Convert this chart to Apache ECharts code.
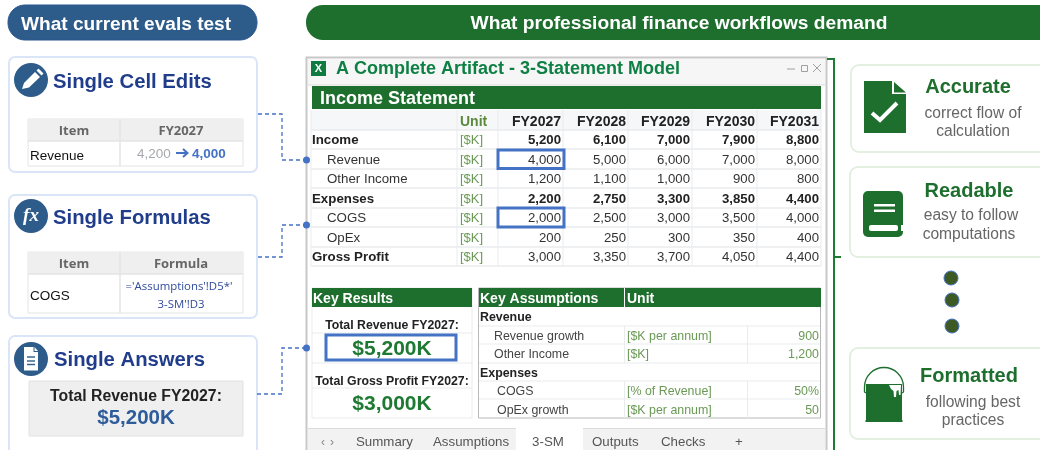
<!DOCTYPE html>
<html>
<head>
<meta charset="utf-8">
<style>
  html, body { margin: 0; padding: 0; background: #fff; }
  #main { width: 1040px; height: 450px; }
</style>
<script src="https://cdn.jsdelivr.net/npm/echarts@6/dist/echarts.min.js"></script>
</head>
<body>
<div id="main"></div>
<script>
// table contents
const years = ["FY2027", "FY2028", "FY2029", "FY2030", "FY2031"];
const rowLabels = ["Income", "Revenue", "Other Income", "Expenses", "COGS", "OpEx", "Gross Profit"];
const boldLabels = ["Income", "Expenses", "Gross Profit"];
const boldValues = ["Income", "Expenses"];
const income = [5200, 6100, 7000, 7900, 8800];
const revenue = [4000, 5000, 6000, 7000, 8000];
const otherIncome = [1200, 1100, 1000, 900, 800];
const expenses = [2200, 2750, 3300, 3850, 4400];
const cogs = [2000, 2500, 3000, 3500, 4000];
const opex = [200, 250, 300, 350, 400];
const grossProfit = [3000, 3350, 3700, 4050, 4400];
const assumptionLabels = ["Revenue growth", "Other Income", "COGS", "OpEx growth"];
const assumptionUnits = ["[$K per annum]", "[$K]", "[% of Revenue]", "[$K per annum]"];
const assumptionValues = ["900", "1,200", "50%", "50"];
const tabs = ["Summary", "Assumptions", "3-SM", "Outputs", "Checks", "+"];

// layout
const colEdges = [311, 457, 498, 563, 628, 692, 757, 821];
const rowEdges = [110, 130, 149, 169, 188, 208, 227, 247, 266];
const tabX = [356, 433, 548, 592, 661, 735];

const SANS = '"Liberation Sans", Arial, sans-serif';
const OPEN = '"Open Sans", sans-serif';
const GREEN = "#1e6e2e";
const NAVY = "#2e5c8a";
const BLUE = "#4472c4";
const GRID = "#e9ebed";

let els = [];

function rect(x, y, w, h, fill, stroke, lw, r) {
  els.push({
    type: "rect", silent: true,
    shape: { x: x, y: y, width: w, height: h, r: r || 0 },
    style: { fill: fill || "none", stroke: stroke || "none", lineWidth: lw || 0 }
  });
}
function line(points, color, lw, dash) {
  els.push({
    type: "polyline", silent: true,
    shape: { points: points },
    style: { fill: "none", stroke: color, lineWidth: lw || 1, lineDash: dash || null }
  });
}
function poly(points, fill) {
  els.push({ type: "polygon", silent: true, shape: { points: points }, style: { fill: fill } });
}
function circle(cx, cy, r, fill, stroke, lw) {
  els.push({
    type: "circle", silent: true,
    shape: { cx: cx, cy: cy, r: r },
    style: { fill: fill, stroke: stroke || "none", lineWidth: lw || 0 }
  });
}
function text(str, x, y, size, color, opts) {
  opts = opts || {};
  els.push({
    type: "text", silent: true,
    style: {
      text: str, x: x, y: y + 2,
      font: (opts.italic ? "italic " : "") + (opts.bold ? "bold " : "") + size + "px " + (opts.family || SANS),
      fill: color, align: opts.align || "left", verticalAlign: "middle"
    }
  });
}
function fmt(v) {
  return v.toLocaleString("en-US");
}

// ---- header pills
rect(8, 5, 249, 35, NAVY, "#2a5590", 1, 17);
text("What current evals test", 21, 23, 19.1, "#fff", { bold: true });
rect(306, 5, 770, 35, GREEN, null, 0, 17);
text("What professional finance workflows demand", 679, 22, 19.2, "#fff", { bold: true, align: "center" });

// ---- left cards
function card(y, h) {
  rect(9, y, 248, h, "#fff", "#dae5f8", 2, 6);
}
function cardTitle(str, x, y) {
  text(str, x, y, 20.3, "#203d8c", { bold: true });
}
function miniTable(y, h, headA, headB) {
  rect(28, y, 215, h, "#fff", "#e4e4e4", 1);
  rect(28, y, 215, 22, "#efefef");
  line([[120, y], [120, y + h]], "#e4e4e4", 1.5);
  line([[28, y + 22], [243, y + 22]], "#e4e4e4", 1.5);
  text(headA, 74, y + 10, 13, "#666", { bold: true, family: OPEN, align: "center" });
  text(headB, 181, y + 10, 13, "#666", { bold: true, family: OPEN, align: "center" });
}

card(57, 115);
circle(31, 80, 17, NAVY);
poly([[22, 89], [24, 83], [35, 72], [40, 77], [29, 87.5]], "#fff");
poly([[36.5, 70.5], [38.5, 68.5], [43.5, 73.5], [41.5, 75.5]], "#fff");
cardTitle("Single Cell Edits", 53, 80);
miniTable(119, 47, "Item", "FY2027");
text("Revenue", 30, 154, 13.5, "#111");
text("4,200", 137, 152, 13.5, "#a5a8ad");
line([[176, 153], [187, 153]], BLUE, 2);
line([[183, 149], [187.5, 153], [183, 157]], BLUE, 2);
text("4,000", 192, 152, 13.5, BLUE, { bold: true });

card(195, 123);
circle(31, 216, 17, NAVY);
text("fx", 31, 214, 19, "#fff", { bold: true, italic: true, family: '"Liberation Serif", serif', align: "center" });
cardTitle("Single Formulas", 53, 216);
miniTable(252, 61, "Item", "Formula");
text("COGS", 30, 294, 13.5, "#111");
text("='Assumptions'!D5*'", 179, 285, 11.4, "#2f4a9a", { family: OPEN, align: "center" });
text("3-SM'!D3", 181, 303, 11.4, "#2f4a9a", { family: OPEN, align: "center" });

card(336, 125);
circle(31, 359, 17, NAVY);
poly([[24, 347], [33.5, 347], [33.5, 352], [38, 352], [38, 370.5], [24, 370.5]], "#fff");
poly([[34.5, 347], [38, 351], [34.5, 351]], "#fff");
line([[27, 357], [35, 357]], NAVY, 1.4);
line([[27, 361], [35, 361]], NAVY, 1.4);
line([[27, 364.5], [35, 364.5]], NAVY, 1.4);
cardTitle("Single Answers", 54, 358);
rect(29, 381, 214, 55, "#efefef", "#e2e2e2", 1);
text("Total Revenue FY2027:", 136, 395, 15.8, "#222", { bold: true, align: "center" });
text("$5,200K", 136, 416, 20.5, "#2e5c9a", { bold: true, align: "center" });

// ---- spreadsheet window
rect(306.5, 57.5, 520, 400, "#fff", "#c8c8c8", 2);
rect(308, 59, 517, 26, "#f6f6f6");
line([[308, 85], [825, 85]], "#dcdcdc", 1);
rect(311, 61, 15, 15, "#0f7b41");
text("X", 318.5, 66.5, 11, "#fff", { bold: true, align: "center" });
text("A Complete Artifact - 3-Statement Model", 336, 67.5, 18, "#0f8045", { bold: true });
line([[787, 69], [795, 69]], "#a0a0a0", 1);
rect(801.5, 65.5, 6, 6, null, "#a0a0a0", 1);
line([[813, 64], [821, 72]], "#a0a0a0", 1);
line([[821, 64], [813, 72]], "#a0a0a0", 1);

// ---- dashed connectors
const dash = [4, 3];
line([[258, 114], [282, 114], [282, 160], [306, 160]], BLUE, 1.3, dash);
line([[258, 257], [282, 257], [282, 225], [306, 225]], BLUE, 1.3, dash);
line([[257, 394], [282, 394], [282, 348], [306, 348]], BLUE, 1.3, dash);
circle(306.5, 160, 3.5, BLUE);
circle(306.5, 225, 3.5, BLUE);
circle(306.5, 348, 3.5, BLUE);

// income statement
rect(312, 86, 509, 23, GREEN);
text("Income Statement", 320, 97, 18, "#fff", { bold: true });
rect(311, rowEdges[0], 510, rowEdges[1] - rowEdges[0], "#f5f7f9");
rowEdges.forEach(function (y, i) {
  if (i > 0) line([[311, y], [821, y]], GRID, 1.5);
});
colEdges.forEach(function (x, i) {
  if (i > 0) line([[x, rowEdges[0]], [x, rowEdges[8]]], GRID, 1);
});
line([[311, rowEdges[0]], [311, rowEdges[8]]], GRID, 1);
text("Unit", 460, 120, 14, "#5b8a3c", { bold: true });
years.forEach(function (yr, j) {
  text(yr, colEdges[j + 3] - 2, 120, 14, "#222", { bold: true, align: "right" });
});
[income, revenue, otherIncome, expenses, cogs, opex, grossProfit].forEach(function (vals, i) {
  const label = rowLabels[i];
  const bold = boldLabels.indexOf(label) >= 0;
  const boldVal = boldValues.indexOf(label) >= 0;
  const cy = (rowEdges[i + 1] + rowEdges[i + 2]) / 2 - 1;
  text(label, bold ? 312 : 327, cy, 13.3, bold ? "#222" : "#333", { bold: bold });
  text("[$K]", 460, cy, 13, "#6a9a55");
  vals.forEach(function (v, j) {
    text(fmt(v), colEdges[j + 3] - 2, cy, 13.2, boldVal ? "#222" : "#333", { bold: boldVal, align: "right" });
  });
});
rect(498, 150, 66, 18.5, null, BLUE, 3);
rect(498, 208, 66, 19, null, BLUE, 3);

// key results
rect(312, 288, 160, 130, "#fff", GRID, 1);
rect(312, 288, 160, 19, GREEN);
text("Key Results", 313, 297, 14, "#fff", { bold: true });
line([[312, 333], [472, 333]], GRID, 1);
line([[312, 363], [472, 363]], GRID, 1);
line([[312, 388], [472, 388]], GRID, 1);
text("Total Revenue FY2027:", 392, 324, 12.3, "#222", { bold: true, align: "center" });
rect(326, 335, 130, 25, "#fff", BLUE, 3);
text("$5,200K", 392, 347, 21, "#1e7a32", { bold: true, align: "center" });
text("Total Gross Profit FY2027:", 392, 380, 12.3, "#222", { bold: true, align: "center" });
text("$3,000K", 392, 402, 21, "#1e7a32", { bold: true, align: "center" });

// key assumptions
rect(478.5, 288, 342, 130, "#fff", "#b8b8b8", 1);
rect(479, 288, 342, 19, GREEN);
line([[624.5, 288], [624.5, 307]], "#fff", 1);
text("Key Assumptions", 480, 297, 14, "#fff", { bold: true });
text("Unit", 627, 297, 14, "#fff", { bold: true });
[326, 344, 363, 381, 399].forEach(function (y) {
  line([[479, y], [820, y]], GRID, 1);
});
line([[624.5, 326], [624.5, 363]], GRID, 1);
line([[624.5, 381], [624.5, 418]], GRID, 1);
line([[747.5, 326], [747.5, 363]], GRID, 1);
line([[747.5, 381], [747.5, 418]], GRID, 1);
text("Revenue", 480, 316, 12.4, "#222", { bold: true });
text("Expenses", 480, 372, 12.4, "#222", { bold: true });
[335, 353, 390, 409].forEach(function (cy, i) {
  text(assumptionLabels[i], i < 2 ? 494 : 497, cy, 12.4, "#444");
  text(assumptionUnits[i], 627, cy, 12.4, "#6a9a55");
  text(assumptionValues[i], 819, cy, 12.4, "#6a9a55", { align: "right" });
});

// sheet tabs
rect(308, 429, 517, 22, "#f2f2f2");
line([[308, 428.5], [825, 428.5]], "#dcdcdc", 1);
rect(516, 428, 67, 23, "#fff");
text("‹", 323, 441, 12, "#888", { align: "center" });
text("›", 332, 441, 12, "#888", { align: "center" });
tabs.forEach(function (t, i) {
  text(t, tabX[i], 440, 13.3, "#555", { align: i === 2 ? "center" : "left" });
});

// ---- bracket
line([[827, 59], [834, 59], [834, 455]], "#1e7b34", 2);
line([[834, 257], [841, 257]], "#1e7b34", 2);

// ---- right cards
function rightCard(x, y, h) {
  rect(x, y, 210, h, "#fff", "#e3f0df", 2, 8);
}
rightCard(851, 65, 87);
poly([[864, 81], [892, 81], [892, 94], [906, 94], [906, 133], [864, 133]], GREEN);
poly([[894, 82], [906, 92.5], [894, 92.5]], GREEN);
line([[872, 113], [880, 120], [897, 103]], "#fff", 4);
text("Accurate", 968, 85, 20, GREEN, { bold: true, align: "center" });
text("correct flow of", 973, 112, 15.6, "#666", { align: "center" });
text("calculation", 973, 130, 15.6, "#666", { align: "center" });

rightCard(850, 167, 90);
rect(863, 191, 40, 46, GREEN, null, 0, 5);
rect(869, 225, 29, 6, "#fff", null, 0, 2);
rect(901, 225, 2, 6, "#fff");
rect(874, 204, 21, 2.5, "#fff");
rect(874, 209.5, 21, 2.5, "#fff");
text("Readable", 969, 189, 20, GREEN, { bold: true, align: "center" });
text("easy to follow", 971, 214, 15.6, "#666", { align: "center" });
text("computations", 969, 233, 15.6, "#666", { align: "center" });

circle(951, 278, 7, "#3d5a25", BLUE, 1);
circle(952, 300, 7, "#3d5a25", BLUE, 1);
circle(952, 326, 7, "#3d5a25", BLUE, 1);

rightCard(850, 348, 91);
els.push({
  type: "arc", silent: true,
  shape: { cx: 884, cy: 387, r: 19.5, startAngle: Math.PI, endAngle: Math.PI * 2, clockwise: true },
  style: { fill: "none", stroke: GREEN, lineWidth: 1.3 }
});
line([[864.5, 387], [864.5, 392], [866, 393]], GREEN, 1.3);
line([[903.5, 387], [903.5, 392], [902, 393]], GREEN, 1.3);
rect(866, 384, 36, 36, GREEN);
rect(865.5, 420, 37, 2, GREEN);
poly([[889, 385], [901, 385], [900.5, 395], [899, 395], [898.5, 390], [896.5, 391], [896, 397], [894, 397], [893.5, 391], [891, 389]], "#fff");
text("Formatted", 969, 374, 20, GREEN, { bold: true, align: "center" });
text("following best", 973, 401, 15.6, "#666", { align: "center" });
text("practices", 973, 419, 15.6, "#666", { align: "center" });

let myChart = echarts.init(document.getElementById("main"));
myChart.setOption({
  animation: false,
  graphic: { elements: els }
});
</script>
</body>
</html>
